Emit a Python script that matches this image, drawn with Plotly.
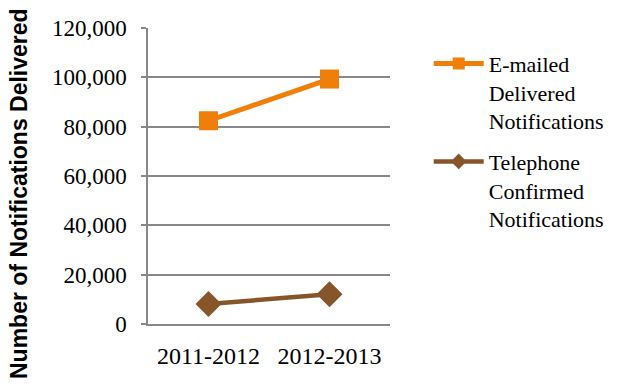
import plotly.graph_objects as go

categories = ["2011-2012", "2012-2013"]
emailed = [82400, 99300]
telephone = [8100, 12100]
series_names = ["E-mailed<br>Delivered<br>Notifications", "Telephone<br>Confirmed<br>Notifications"]
y_ticks = [0, 20000, 40000, 60000, 80000, 100000, 120000]
y_ticktext = ["0", "20,000", "40,000", "60,000", "80,000", "100,000", "120,000"]
y_title = "Number of Notifications Delivered"

orange = "#F07F09"
brown = "#87552A"
serif = "Liberation Serif"

fig = go.Figure()
# data traces
fig.add_trace(go.Scatter(
    x=categories, y=emailed, name=series_names[0], mode="lines+markers",
    line=dict(color=orange, width=5), showlegend=False, legendgroup="a",
    marker=dict(symbol="square", size=19, color=orange),
))
fig.add_trace(go.Scatter(
    x=categories, y=telephone, name=series_names[1], mode="lines+markers",
    line=dict(color=brown, width=4.5), showlegend=False, legendgroup="b",
    marker=dict(symbol="diamond", size=20, color=brown),
))
# legend entries (smaller symbols, as in the reference legend)
fig.add_trace(go.Scatter(
    x=[None], y=[None], name=series_names[0], mode="lines+markers", legendgroup="a",
    line=dict(color=orange, width=5),
    marker=dict(symbol="square", size=12, color=orange),
))
fig.add_trace(go.Scatter(
    x=[None], y=[None], name=series_names[1], mode="lines+markers", legendgroup="b",
    line=dict(color=brown, width=4.5),
    marker=dict(symbol="diamond", size=12, color=brown),
))

fig.update_layout(
    width=636, height=386,
    margin=dict(l=148, r=246, t=28, b=62),
    paper_bgcolor="white", plot_bgcolor="white",
    font=dict(family=serif, size=22, color="#000"),
    showlegend=True,
    legend=dict(
        x=1.16, xanchor="left", y=0.95, yanchor="top",
        font=dict(family=serif, size=22, color="#000"),
        itemwidth=50, tracegroupgap=9, valign="top",
        bgcolor="rgba(0,0,0,0)",
    ),
    xaxis=dict(
        type="category", range=[-0.5, 1.5],
        showline=True, linecolor="#888", linewidth=1.5,
        showgrid=False, ticks="", ticklabelstandoff=9,
        tickfont=dict(family=serif, size=24, color="#000"),
    ),
    yaxis=dict(
        range=[0, 120000], tickvals=y_ticks, ticktext=y_ticktext,
        showline=True, linecolor="#888", linewidth=1.5,
        showgrid=True, gridcolor="#888", gridwidth=1.5,
        ticks="outside", ticklen=5, tickcolor="#888", tickwidth=1.5,
        ticklabelstandoff=10,
        tickfont=dict(family=serif, size=23, color="#000"),
        zeroline=False,
    ),
    annotations=[dict(
        text="<b>" + y_title + "</b>", textangle=-90,
        xref="paper", yref="paper",
        x=(19 - 148) / 242, y=(324 - 194) / 296,
        xanchor="center", yanchor="middle", showarrow=False,
        font=dict(family="Liberation Sans", size=23, color="#000"),
    )],
)

fig.write_html("out.html")
